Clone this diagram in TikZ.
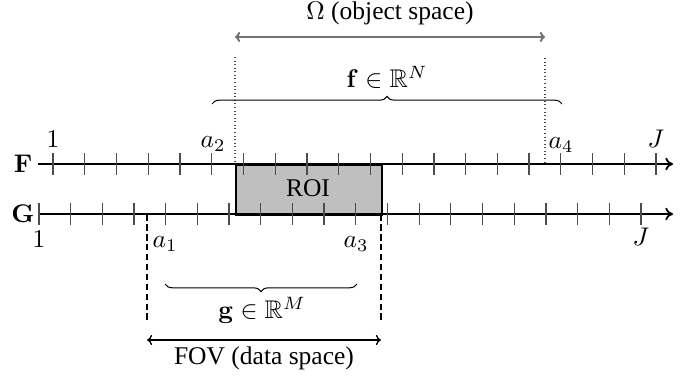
\documentclass[tikz,border=0pt]{standalone}
\usepackage{amsmath,amssymb}
\usepackage[no-math]{fontspec}
\setmainfont{Liberation Serif}
\usetikzlibrary{decorations.pathreplacing,arrows.meta}
\begin{document}
\begin{tikzpicture}[x=0.392pt,y=-0.392pt,
  axis/.style={line width=0.7pt,-{To[length=3pt,width=5pt]}},
  tickmark/.style={line width=0.5pt,black!70},
  lbl/.style={inner sep=0pt,anchor=base},
  dotv/.style={densely dotted,line width=0.4pt,black!70},
  dashv/.style={dash pattern=on 2.6pt off 1.3pt,line width=0.4pt},
  dimarrow/.style={{To[length=2pt,width=4pt]}-{To[length=2pt,width=4pt]},line width=0.5pt},
  bracedeco/.style={decorate,decoration={brace,amplitude=3pt},line width=0.4pt},
  roibox/.style={draw,fill=gray!50,line width=0.6pt,inner sep=0pt}]
\useasboundingbox (0,0) rectangle (693,380);
% ROI
\node[roibox,minimum width=146*0.392pt,minimum height=50*0.392pt,anchor=north west] (roi) at (235,164) {};
\node[lbl] (roit) at (308,197) {ROI};
% axes
\coordinate (Fs) at (38,164);
\coordinate (Fe) at (673,164);
\coordinate (Gs) at (39,214);
\coordinate (Ge) at (673,214);
\draw[axis] (Fs) -- (Fe);
\draw[axis] (Gs) -- (Ge);
\node[anchor=center,inner sep=0pt] (Flab) at (23,164) {$\mathbf{F}$};
\node[anchor=center,inner sep=0pt] (Glab) at (23,214) {$\mathbf{G}$};
% ticks
\foreach \i in {1,...,20} {
  \coordinate (ft\i) at ({53+(\i-1)*31.74},164);
  \coordinate (gt\i) at ({39+(\i-1)*31.68},214);
  \draw[tickmark] ([yshift=11*0.392pt]ft\i) -- ([yshift=-11*0.392pt]ft\i);
  \draw[tickmark] ([yshift=11*0.392pt]gt\i) -- ([yshift=-11*0.392pt]gt\i);
}
% tick labels
\node[lbl] (l1f) at (53,148) {$1$};
\node[lbl] (la2) at (213,148) {$a_2$};
\node[lbl] (la4) at (561,149) {$a_4$};
\node[lbl] (lJf) at (656,148) {$J$};
\node[lbl] (l1g) at (39,248) {$1$};
\node[lbl] (la1) at (165,248) {$a_1$};
\node[lbl] (la3) at (356,248) {$a_3$};
\node[lbl] (lJg) at (641,246) {$J$};
% object space
\coordinate (dl) at (235,57);
\coordinate (dlb) at (235,164);
\coordinate (dr) at (545,58);
\coordinate (drb) at (545,164);
\draw[dotv] (dl) -- (dlb);
\draw[dotv] (dr) -- (drb);
\coordinate (oa) at (235,37);
\coordinate (ob) at (545,37);
\draw[dimarrow,black!55,line width=0.8pt] (oa) -- (ob);
\node[lbl] (omega) at (390,20) {$\Omega$ (object space)};
\coordinate (fa) at (212,104);
\coordinate (fb) at (562,104);
\draw[bracedeco] (fa) -- (fb);
\node[lbl] (fvec) at (387,88) {$\mathbf{f}\in\mathbb{R}^N$};
% data space
\coordinate (el) at (147,214);
\coordinate (elb) at (147,321);
\coordinate (er) at (381,214);
\coordinate (erb) at (381,321);
\draw[dashv] (el) -- (elb);
\draw[dashv] (er) -- (erb);
\coordinate (ga) at (165,284);
\coordinate (gb) at (357,284);
\draw[bracedeco,decoration={mirror}] (ga) -- (gb);
\node[lbl] (gvec) at (262,319) {$\mathbf{g}\in\mathbb{R}^M$};
\coordinate (da) at (147,340);
\coordinate (db) at (381,340);
\draw[dimarrow] (da) -- (db);
\node[lbl] (fov) at (264,365) {FOV (data space)};
\end{tikzpicture}
\end{document}
